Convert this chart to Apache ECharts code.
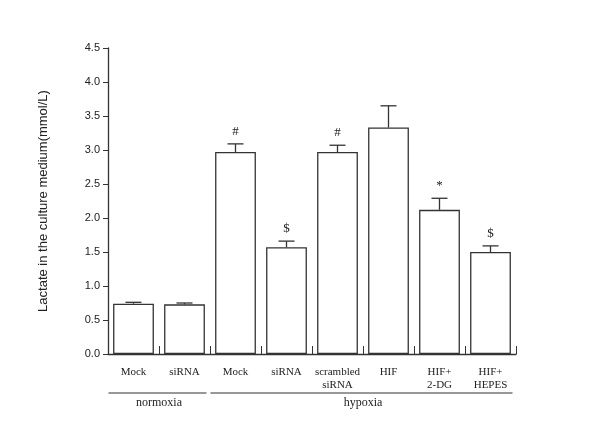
<!DOCTYPE html>
<html><head><meta charset="utf-8">
<script src="https://cdn.jsdelivr.net/npm/echarts@6/dist/echarts.min.js"></script>
<style>html,body{margin:0;padding:0;background:#fff}#c{width:600px;height:425px}</style>
</head><body><div id="c"></div>
<script>
const categories = ['Mock','siRNA','Mock','siRNA','scrambled\nsiRNA','HIF','HIF+\n2-DG','HIF+\nHEPES'];
const values = [0.74,0.73,2.97,1.57,2.97,3.33,2.12,1.50];
const errors = [0.02,0.02,0.12,0.09,0.10,0.32,0.17,0.09];
const marks = ['','','#','$','#','','*','$'];
const groups = [{name:'normoxia',from:0,to:1},{name:'hypoxia',from:2,to:7}];
const yTicks = {min:0,max:4.5,interval:0.5};

const chart = echarts.init(document.getElementById('c'));
const serif = 'Liberation Serif';
chart.setOption({
  animation:false,
  grid:{left:108,right:84,top:48,bottom:71},
  xAxis:{type:'category',data:categories,
    axisLine:{lineStyle:{color:'#333',width:1.3}},
    axisTick:{show:true,alignWithLabel:false,length:8,inside:true,lineStyle:{color:'#333'}},
    axisLabel:{color:'#222',fontFamily:serif,fontSize:11,margin:12,interval:0,lineHeight:13}},
  yAxis:{type:'value',min:yTicks.min,max:yTicks.max,interval:yTicks.interval,
    name:'Lactate in the culture medium(mmol/L)',nameLocation:'middle',nameGap:58,
    nameTextStyle:{fontFamily:'Liberation Sans',fontSize:13,color:'#222'},
    axisLine:{show:true,lineStyle:{color:'#333',width:1.3}},
    axisTick:{show:true,length:5,lineStyle:{color:'#333'}},
    splitLine:{show:false},
    axisLabel:{fontFamily:'Liberation Sans',fontSize:11,color:'#222',formatter:v=>v.toFixed(1)}},
  series:[
    {type:'bar',data:values,barWidth:'80%',
     itemStyle:{color:'#fff',borderColor:'#333',borderWidth:1.3}},
    {type:'custom',data:values.map((v,i)=>[i,v,errors[i],marks[i]]),z:5,
     renderItem:(p,api)=>{
       const i=api.value(0),v=api.value(1),e=api.value(2);
       const b=api.coord([i,v]),t=api.coord([i,v+e]);
       const w=8;
       const ch=[
         {type:'line',shape:{x1:b[0],y1:b[1],x2:t[0],y2:t[1]},style:{stroke:'#333',lineWidth:1.3}},
         {type:'line',shape:{x1:t[0]-w,y1:t[1],x2:t[0]+w,y2:t[1]},style:{stroke:'#333',lineWidth:1.3}}];
       const m=marks[i];
       if(m) ch.push({type:'text',style:{text:m,x:t[0],y:t[1]-6,align:'center',verticalAlign:'bottom',fontFamily:serif,fontSize:13,fill:'#222'}});
       return {type:'group',children:ch};
     }}
  ]
});
const g=[];
groups.forEach(gr=>{
  const a=chart.convertToPixel({xAxisIndex:0},gr.from), b=chart.convertToPixel({xAxisIndex:0},gr.to);
  const half=20;
  g.push({type:'line',shape:{x1:a-half-5,y1:393,x2:b+half+2,y2:393},style:{stroke:'#333',lineWidth:1.2}});
  g.push({type:'text',x:(a+b)/2,y:397,style:{text:gr.name,align:'center',verticalAlign:'top',fontFamily:serif,fontSize:12,fill:'#222'}});
});
chart.setOption({graphic:g});
</script></body></html>
